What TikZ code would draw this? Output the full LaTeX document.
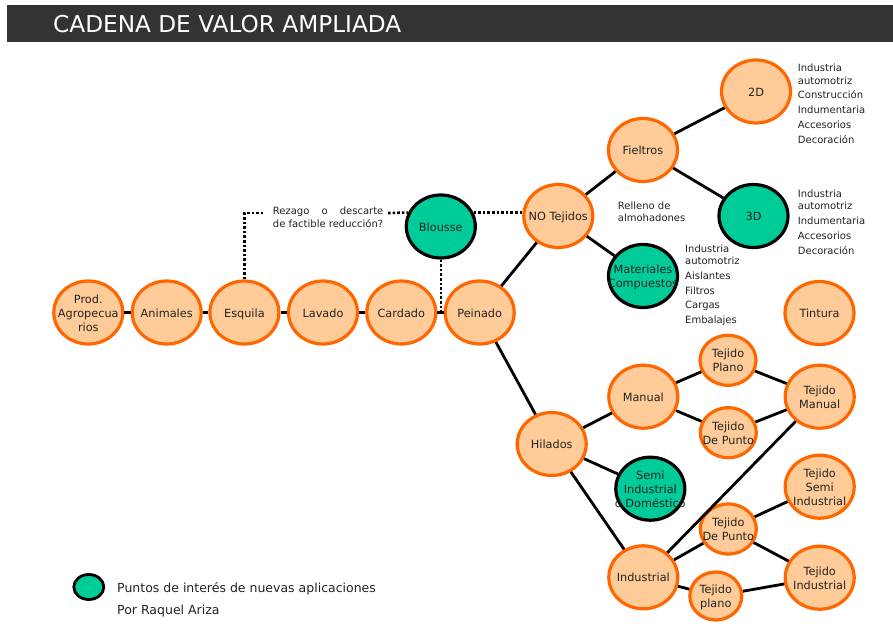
\documentclass[tikz,border=0pt]{standalone}
\usepackage{fontspec}
\setmainfont{DejaVu Sans}
\usepackage{xcolor}
\usepackage{tikz}
\usetikzlibrary{shapes.geometric}
\definecolor{peach}{HTML}{FFCC99}
\definecolor{rim}{HTML}{FF6600}
\definecolor{mint}{HTML}{00CC99}
\definecolor{barfill}{HTML}{333333}
\definecolor{ink}{HTML}{222222}
% zero-size centred text, so the ellipse keeps its set size
\newcommand{\inside}[1]{\makebox[0pt]{\smash{\raisebox{-4.5pt}{\begin{tabular}{@{}c@{}}#1\end{tabular}}}}}

\begin{document}
\begin{tikzpicture}[
  x=1pt, y=-1pt,
  onode/.style={ellipse, draw=rim, line width=3.2pt, fill=peach,
                minimum width=69pt, minimum height=63pt, inner sep=0pt,
                text=ink, font=\fontsize{11.3}{14}\selectfont},
  snode/.style={onode, minimum width=56pt, minimum height=50pt},
  gnode/.style={onode, draw=black, fill=mint},
  link/.style={line width=2.8pt},
  dots/.style={line width=2.6pt, dotted},
  lst/.style={anchor=north west, align=left, text=ink, inner sep=0pt,
              font=\fontsize{10}{14.8}\selectfont},
  ann/.style={anchor=north west, align=left, text=ink, inner sep=0pt,
              font=\fontsize{10}{12.4}\selectfont},
  lgd/.style={anchor=west, text=ink, inner sep=0pt,
              font=\fontsize{12.5}{15}\selectfont},
]
  \useasboundingbox (0,0) rectangle (893,623);

  % Title bar
  \fill[barfill] (7,5) rectangle (893,42);
  \node[anchor=base west, inner sep=0pt, text=white,
        font=\fontsize{23.2}{27}\selectfont] (title) at (53,32.3)
    {CADENA DE VALOR AMPLIADA};

  % Main chain at y=313
  \node[onode] (pro) at (88.3,312.5) {\inside{Prod.\\Agropecua\\rios}};
  \node[onode] (ani) at (166.7,312.5) {\inside{Animales}};
  \node[onode] (esq) at (244.4,312.5) {\inside{Esquila}};
  \node[onode] (lav) at (323,312.5) {\inside{Lavado}};
  \node[onode] (car) at (401.3,312.5) {\inside{Cardado}};
  \node[onode] (pei) at (479.7,312.5) {\inside{Peinado}};

  \draw[link, line width=3.2pt] (pro) -- (ani);
  \draw[link, line width=3.2pt] (ani) -- (esq);
  \draw[link, line width=3.2pt] (esq) -- (lav);
  \draw[link, line width=3.2pt] (lav) -- (car);
  \draw[link, line width=3.2pt] (car) -- (pei);

  % Blousse and the dotted by-pass
  \node[gnode] (blo) at (440.8,226.5) {\inside{Blousse}};
  \node[ann] (rez) at (272.7,207)
    {Rezago\hspace{9pt} o\hspace{9pt} descarte\\de factible reducción?};
  \coordinate (rzl) at (265,213);
  \coordinate (rzr) at (388,213);
  \draw[dots] (esq.north) |- (rzl);
  \draw[dots] (rzr) -- (blo.157);
  \draw[dots] (blo.south) -- (blo.south |- car.east);

  % NO Tejidos branch
  \node[onode] (notej) at (558.3,216) {\inside{NO Tejidos}};
  \node[onode] (fie) at (643,150) {\inside{Fieltros}};
  \node[onode] (dos) at (756,91.5) {\inside{2D}};
  \node[gnode] (tres) at (753.5,216) {\inside{3D}};
  \node[gnode] (mat) at (643,276) {\inside{Materiales\\Compuestos}};
  \node[onode] (tin) at (819.5,313) {\inside{Tintura}};

  \draw[dots] (blo.23) -- (notej.west |- blo.23);
  \draw[link] (pei) -- (notej);
  \draw[link] (notej) -- (fie);
  \draw[link] (notej) -- (mat);
  \draw[link] (fie) -- (dos);
  \draw[link] (fie) -- (tres);

  \node[ann] (rel) at (617.7,201.5) {Relleno de\\almohadones};
  \node[lst] (usos2d) at (797.7,64)
    {Industria\\[-2.5pt]automotriz\\Construcción\\Indumentaria\\Accesorios\\Decoración};
  \node[lst] (usos3d) at (797.7,189.5)
    {Industria\\[-2.5pt]automotriz\\Indumentaria\\Accesorios\\Decoración};
  \node[lst] (usosmat) at (685,244.3)
    {Industria\\[-2.5pt]automotriz\\Aislantes\\Filtros\\Cargas\\Embalajes};

  % Hilados branch
  \node[onode] (hil) at (551.7,444) {\inside{Hilados}};
  \node[onode] (man) at (643.3,396.7) {\inside{Manual}};
  \node[snode] (tpl) at (728,360.3) {\inside{Tejido\\Plano}};
  \node[snode] (tdp) at (728.3,432.7) {\inside{Tejido\\De Punto}};
  \node[onode] (tma) at (819.7,396.7) {\inside{Tejido\\Manual}};
  \node[gnode] (sem) at (650.3,488.7) {\inside{Semi\\Industrial\\o Doméstico}};
  \node[onode] (tsi) at (819.7,486.7) {\inside{Tejido\\Semi\\Industrial}};
  \node[snode] (tdpi) at (728.3,529) {\inside{Tejido\\De Punto}};
  \node[onode] (ind) at (643.3,577.3) {\inside{Industrial}};
  \node[snode, minimum width=52pt, minimum height=48pt] (tpli) at (715.8,596)
    {\inside{Tejido\\plano}};
  \node[onode] (tin2) at (819.7,577.7) {\inside{Tejido\\Industrial}};

  \draw[link] (pei) -- (hil);
  \draw[link] (hil) -- (man);
  \draw[link] (hil) -- (sem);
  \draw[link] (hil) -- (ind);
  \draw[link] (man) -- (tpl);
  \draw[link] (man) -- (tdp);
  \draw[link] (tpl) -- (tma);
  \draw[link] (tdp) -- (tma);
  \draw[link] (ind) -- (tma);
  \draw[link] (ind) -- (tdpi);
  \draw[link] (ind) -- (tpli);
  \draw[link] (tdpi) -- (tsi);
  \draw[link] (tdpi) -- (tin2);
  \draw[link] (tpli) -- (tin2);

  % Legend
  \node[ellipse, draw=black, line width=2.8pt, fill=mint, minimum width=30pt,
        minimum height=25pt, inner sep=0pt] (key) at (88.8,587) {};
  \node[lgd] (keytxt) at (117,589) {Puntos de interés de nuevas aplicaciones};
  \node[lgd] (author) at (117,611.5) {Por Raquel Ariza};
\end{tikzpicture}
\end{document}
